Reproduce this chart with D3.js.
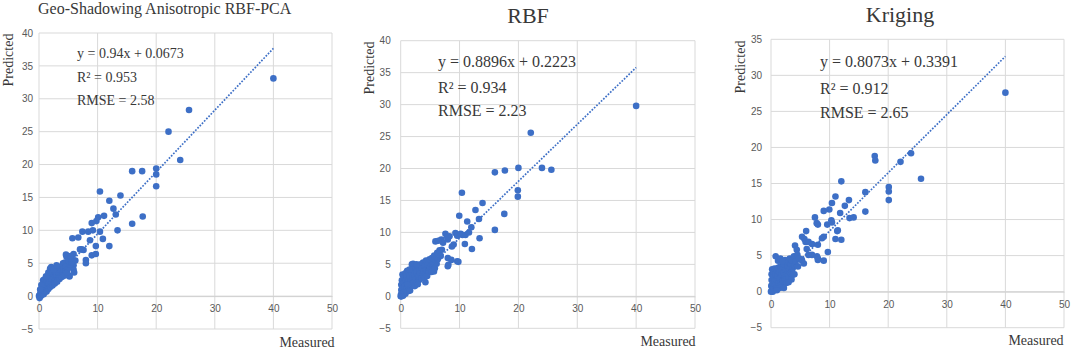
<!DOCTYPE html>
<html><head><meta charset="utf-8">
<script src="https://cdn.jsdelivr.net/npm/d3@7/dist/d3.min.js"></script>
<style>body{margin:0;background:#fff}svg{display:block}</style>
</head><body>
<svg id="c" width="1072" height="350"></svg>
<script>
// ---------- DATA ----------
const titles = ["Geo-Shadowing Anisotropic RBF-PCA", "RBF", "Kriging"];
const equations = ["y = 0.94x + 0.0673", "y = 0.8896x + 0.2223", "y = 0.8073x + 0.3391"];
const r2Labels = ["R\u00B2 = 0.953", "R\u00B2 = 0.934", "R\u00B2 = 0.912"];
const rmseLabels = ["RMSE = 2.58", "RMSE = 2.23", "RMSE = 2.65"];
const slopes = [0.94, 0.8896, 0.8073];
const intercepts = [0.0673, 0.2223, 0.3391];
const xTicks = [0, 10, 20, 30, 40, 50];
const yTicks1 = [-5, 0, 5, 10, 15, 20, 25, 30, 35, 40];
const yTicks2 = [-5, 0, 5, 10, 15, 20, 25, 30, 35, 40];
const yTicks3 = [-5, 0, 5, 10, 15, 20, 25, 30, 35];
const xLabel = "Measured";
const yLabel = "Predicted";

const points1 = [
 [40.0,33.1],[25.6,28.3],[22.1,25.0],[24.1,20.7],[15.9,19.0],[17.6,19.0],[20.0,19.4],[20.0,18.5],[20.0,16.7],
 [10.4,15.9],[13.9,15.3],[12.0,14.5],[12.7,13.3],[13.1,12.4],[11.1,12.2],[10.1,12.0],[9.8,11.4],[9.0,11.1],
 [10.4,9.8],[9.2,10.0],[8.4,9.8],[7.4,9.8],[6.7,8.9],[5.7,8.8],[8.7,8.5],[10.9,8.7],[13.4,10.0],[15.9,11.0],
 [17.7,12.1],[9.7,7.6],[12.0,7.6],[7.0,7.1],[7.6,7.0],[7.3,7.1],[9.0,6.2],[9.7,6.4],[8.0,5.5],[8.0,5.0],[5.9,6.4],
 [4.7,6.0],[5.9,4.7],[6.2,5.4],[5.2,3.0],[5.9,4.0],[1.9,4.2],[4.1,5.0],[0.7,2.4],[6.0,3.6],[5.2,3.1],
 [0,0],[0.05,0.1],[0.1,-0.3],[0.2,0.3],[0.3,0.0],[0.3,0.8],[0.4,0.4],[0.5,1.1],[0.5,0.2],[0.6,0.6],[0.7,1.5],
 [0.8,0.3],[0.8,0.9],[0.9,2.5],[1.0,1.3],[1.0,0.6],[1.1,1.9],[1.2,1.0],[1.3,2.3],[1.3,0.7],[1.4,1.5],[1.5,2.8],
 [1.6,1.1],[1.7,1.9],[1.8,2.4],[1.9,1.4],[2.0,3.0],[2.1,1.8],[2.2,2.5],[2.3,1.6],[2.4,3.3],[2.5,2.1],[2.6,2.8],
 [2.7,1.9],[2.8,3.7],[2.9,2.5],[3.0,3.1],[3.1,2.2],[3.2,4.1],[3.3,2.9],[3.4,3.5],[3.5,2.6],[3.6,4.4],[3.7,3.2],
 [3.8,3.8],[3.9,2.9],[4.0,4.6],[4.1,3.5],[4.2,4.1],[4.3,3.1],[4.4,5.1],[4.5,3.9],[4.6,4.5],[4.8,3.6],[5.0,5.4],
 [5.1,4.3],[5.3,4.8],[5.5,5.8],[5.6,5.2],[2.1,4.4],[1.6,3.6],[1.2,3.0],[0.4,1.7],[0.2,1.0],[2.5,4.0],[3.0,4.7],
 [4.6,6.3],[5.4,6.1]
];
const points2 = [
 [40.0,29.8],[22.1,25.6],[16.0,19.4],[17.7,19.7],[20.0,20.1],[24.0,20.1],[25.6,19.8],[10.4,16.2],[19.9,16.6],
 [19.9,15.6],[13.9,14.6],[12.7,13.5],[17.6,12.9],[9.95,12.6],[11.3,11.7],[13.3,12.1],[12.0,10.8],[16.0,10.4],
 [13.4,9.1],[10.9,8.2],[12.1,7.4],[9.3,9.9],[7.6,9.8],[5.9,8.6],[6.9,8.9],[8.3,9.4],[9.6,9.5],[11.0,9.6],
 [9.0,8.1],[8.7,7.8],[8.0,6.0],[8.0,4.7],[8.6,5.7],[9.6,5.5],[7.0,7.3],[6.5,6.8],[5.6,5.7],[4.8,5.4],[5.6,4.1],
 [4.2,2.2],[1.9,5.0],[1.1,4.0],[5.65,3.9],[8.1,4.95],[9.8,5.4],[6.1,5.1],[2.1,5.1],[10.2,9.8],[11.6,10.0],
 [7.2,8.4],[8.0,8.9],[6.4,8.7],[7.9,9.3],[10.5,9.6],
 [0,0],[0.05,0.3],[0.1,1.0],[0.1,1.8],[0.2,2.5],[0.2,0.4],[0.3,3.4],[0.3,1.3],[0.4,0.1],[0.5,2.2],[0.5,3.0],
 [0.6,0.8],[0.7,1.6],[0.8,3.6],[0.8,0.4],[0.9,2.6],[1.0,1.2],[1.0,3.2],[1.1,2.0],[1.2,0.8],[1.3,3.8],[1.3,2.6],
 [1.4,1.5],[1.5,3.2],[1.6,0.9],[1.7,2.3],[1.8,3.9],[1.9,1.6],[2.0,2.9],[2.1,4.2],[2.2,2.1],[2.3,3.4],[2.4,1.6],
 [2.5,4.4],[2.6,2.7],[2.7,3.8],[2.8,2.1],[2.9,4.7],[3.0,3.2],[3.1,2.5],[3.2,4.2],[3.3,3.6],[3.4,5.0],[3.5,2.8],
 [3.6,4.4],[3.7,3.3],[3.8,5.3],[3.9,3.9],[4.0,2.9],[4.1,4.8],[4.2,3.6],[4.3,5.6],[4.4,4.2],[4.5,3.2],[4.6,5.0],
 [4.7,4.0],[4.9,5.8],[5.0,4.6],[5.2,3.8],[5.3,6.0],[5.5,5.0],[5.7,6.4],[5.8,4.4],[6.0,5.6],[6.2,6.8],[6.3,5.8],
 [6.6,7.2],[6.8,6.3],[1.5,4.2],[2.7,5.0],[0.5,0.6],[1.2,1.8],[0.15,0.0],[2.9,1.9]
];
const points3 = [
 [40.0,27.6],[17.7,18.8],[17.8,18.2],[22.1,18.0],[23.9,19.2],[25.6,15.65],[12.0,15.3],[20.1,14.5],[20.1,13.9],
 [20.1,12.7],[16.1,13.8],[16.1,11.1],[11.0,13.2],[13.3,12.7],[12.6,11.9],[10.4,12.3],[9.95,11.4],[9.0,11.2],
 [7.5,10.3],[13.4,10.2],[14.1,10.3],[11.8,10.9],[10.3,9.9],[9.6,9.3],[8.0,9.3],[7.8,9.5],[10.4,9.6],[11.4,8.5],
 [6.0,8.4],[11.3,8.4],[11.0,7.3],[12.0,7.2],[8.0,6.5],[8.7,7.4],[9.0,7.6],[5.3,7.6],[5.7,7.3],[5.9,6.9],[6.4,6.9],
 [7.0,6.6],[4.1,6.4],[4.4,5.8],[6.1,5.9],[7.0,5.1],[6.4,5.1],[9.7,5.5],[8.0,4.4],[9.0,4.3],[8.0,4.6],[7.85,4.9],
 [5.3,4.3],[0.8,4.9],[4.0,2.4],[2.0,3.4],[2.6,2.9],[4.1,3.7],[5.6,3.9],[5.2,4.5],
 [0,0],[0.05,0.8],[0.1,1.6],[0.1,2.4],[0.2,3.1],[0.2,0.3],[0.3,1.2],[0.4,2.0],[0.4,2.8],[0.5,0.5],[0.6,3.2],
 [0.6,1.5],[0.7,0.9],[0.8,2.4],[0.9,3.0],[1.0,1.6],[1.0,0.6],[1.1,2.2],[1.2,3.3],[1.3,1.2],[1.4,2.7],[1.5,1.8],
 [1.6,3.5],[1.7,0.9],[1.8,2.4],[1.9,3.0],[2.0,1.5],[2.1,2.6],[2.2,3.8],[2.3,1.9],[2.4,4.4],[2.5,3.0],[2.6,1.2],
 [2.7,2.4],[2.8,3.6],[2.9,4.1],[3.0,2.0],[3.1,3.1],[3.2,4.6],[3.3,2.6],[3.4,3.8],[3.5,1.7],[3.6,4.3],[3.7,3.2],
 [3.8,2.4],[3.9,4.9],[4.0,3.6],[4.2,4.2],[4.5,5.1],[4.6,3.5],[4.8,4.6],[1.2,4.3],[1.6,4.6],[2.0,4.2],[0.3,0.0],
 [1.5,0.5],[2.2,0.5],[1.0,0.2],[3.0,1.3]
];

// ---------- LAYOUT (positions / styles) ----------
const panels = [
 {pts: points1, yTicks: yTicks1, yDom: [-5, 40], xr: [39, 332], yr: [329, 33], tickGap: 6,
  title: {x: 38, y: 13.5, size: 16, anchor: "start"},
  ann: {x: 77, ys: [58, 82, 105], size: 14},
  pred: {x: 13.3, y: 60}, meas: {x: 307, y: 347}},
 {pts: points2, yTicks: yTicks2, yDom: [-5, 40], xr: [400.7, 695], yr: [328.3, 40.7], tickGap: 10,
  title: {x: 528, y: 22.5, size: 22, anchor: "middle"},
  ann: {x: 438, ys: [66.5, 92.5, 115.5], size: 16},
  pred: {x: 374.3, y: 68}, meas: {x: 668, y: 345.5}},
 {pts: points3, yTicks: yTicks3, yDom: [-5, 35], xr: [771, 1064], yr: [327.7, 39.3], tickGap: 9,
  title: {x: 900, y: 21.7, size: 22, anchor: "middle"},
  ann: {x: 820, ys: [66.5, 93.5, 117.5], size: 16},
  pred: {x: 745.3, y: 67}, meas: {x: 1036, y: 345}}
];

const svg = d3.select("#c");
svg.append("rect").attr("width", 1072).attr("height", 350).attr("fill", "#fff");
const serif = "'Liberation Serif','Times New Roman',serif";
const sans = "'Liberation Sans',Arial,sans-serif";
const dotColor = "#3d6fc6";
const textColor = "#383838";

panels.forEach((p, i) => {
  const x = d3.scaleLinear().domain([0, 50]).range(p.xr);
  const y = d3.scaleLinear().domain(p.yDom).range(p.yr);
  const g = svg.append("g");

  // gridlines
  g.append("g").selectAll("line").data(p.yTicks).join("line")
    .attr("x1", x(0)).attr("x2", x(50)).attr("y1", d => y(d)).attr("y2", d => y(d))
    .attr("stroke", "#d9d9d9").attr("stroke-width", 1);
  g.append("g").selectAll("line").data(xTicks).join("line")
    .attr("x1", d => x(d)).attr("x2", d => x(d)).attr("y1", y(p.yDom[0])).attr("y2", y(p.yDom[1]))
    .attr("stroke", "#d9d9d9").attr("stroke-width", 1);

  // axes (labels only) via d3 axes
  const xAxis = d3.axisBottom(x).tickValues(xTicks).tickSize(0).tickPadding(9);
  const xa = g.append("g").attr("transform", `translate(0,${y(0)})`).call(xAxis);
  xa.select(".domain").attr("stroke", "#d0d0d0");
  xa.selectAll("text").attr("font-family", sans).attr("font-size", 10).attr("fill", "#595959");

  const yAxis = d3.axisLeft(y).tickValues(p.yTicks).tickSize(0).tickPadding(p.tickGap);
  const yg = g.append("g").attr("transform", `translate(${x(0)},0)`).call(yAxis);
  yg.select(".domain").remove();
  yg.selectAll("text").attr("font-family", sans).attr("font-size", 10).attr("fill", "#595959");

  // points
  g.append("g").selectAll("circle").data(p.pts).join("circle")
    .attr("cx", d => x(d[0])).attr("cy", d => y(d[1])).attr("r", 3.3)
    .attr("fill", dotColor);

  // trendline
  const xMax = d3.max(p.pts, d => d[0]), xMin = d3.min(p.pts, d => d[0]);
  g.append("line")
    .attr("x1", x(xMin)).attr("y1", y(slopes[i] * xMin + intercepts[i]))
    .attr("x2", x(xMax)).attr("y2", y(slopes[i] * xMax + intercepts[i]))
    .attr("stroke", dotColor).attr("stroke-width", 1.7).attr("stroke-dasharray", "1.7,1.5");

  // title
  svg.append("text").attr("x", p.title.x).attr("y", p.title.y).attr("text-anchor", p.title.anchor)
    .attr("font-family", serif).attr("font-size", p.title.size).attr("fill", textColor).text(titles[i]);

  // annotations
  [equations[i], r2Labels[i], rmseLabels[i]].forEach((t, k) => {
    svg.append("text").attr("x", p.ann.x).attr("y", p.ann.ys[k])
      .attr("font-family", serif).attr("font-size", p.ann.size).attr("fill", textColor).text(t);
  });

  // axis titles
  svg.append("text").attr("transform", `translate(${p.pred.x},${p.pred.y}) rotate(-90)`)
    .attr("text-anchor", "middle").attr("font-family", serif).attr("font-size", 14)
    .attr("fill", textColor).text(yLabel);
  svg.append("text").attr("x", p.meas.x).attr("y", p.meas.y).attr("text-anchor", "middle")
    .attr("font-family", serif).attr("font-size", 14).attr("fill", textColor).text(xLabel);
});
</script>
</body></html>
